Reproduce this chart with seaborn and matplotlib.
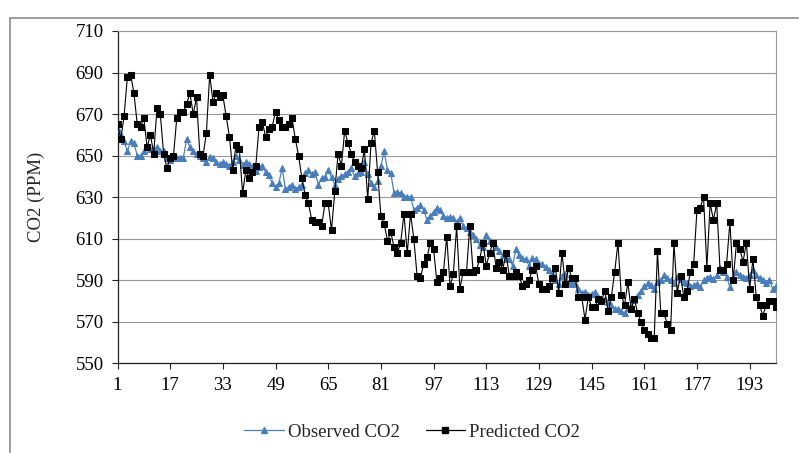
import numpy as np
import pandas as pd
import matplotlib
matplotlib.use("Agg")
import matplotlib.pyplot as plt
import seaborn as sns
from matplotlib.lines import Line2D

observed = [
    663, 660, 657, 652, 657, 656, 650, 650, 652, 654,
    653, 653, 654, 652, 652, 649, 648, 649, 649, 649,
    649, 658, 654, 652, 651, 650, 649, 647, 649.5, 648.7,
    647, 646, 647, 646, 645, 647, 650, 648, 645.5, 647,
    646, 644.7, 642.6, 644.3, 645, 642, 640.6, 636.6, 635, 636.6,
    644, 634, 635, 636, 634, 635, 636, 641.5, 643, 641,
    642, 636, 639, 639.5, 643, 639.5, 636, 638.6, 640, 641,
    642, 644, 640, 641.5, 642, 647, 641, 637, 635, 638,
    645, 652, 643, 641.5, 632, 632.6, 632, 630, 630, 630,
    624, 625, 626, 624, 619, 621, 623, 624.6, 623.8, 621,
    620, 620.5, 620, 618, 620, 616, 615, 613, 612, 610,
    607, 606, 612, 609, 608, 606, 604, 602, 600, 600,
    597, 605, 602, 600.5, 600, 597, 600.5, 600, 598, 598,
    596.5, 595, 593, 590, 588, 592, 593, 589, 588, 588.5,
    586, 584, 584.5, 583, 583.5, 584.5, 582, 580.5, 581, 579.6,
    578, 576, 576, 575, 574, 576.5, 578, 580.5, 583, 585,
    587, 588.5, 587.7, 586, 589, 590, 592.5, 591, 590, 588.5,
    591.7, 590.4, 589.3, 588.5, 587, 587.7, 588, 586.6, 590, 591,
    591.7, 590.4, 592.5, 595.7, 594, 591.7, 586.6, 591, 594, 592.5,
    591.7, 591, 592.5, 595, 592.5, 591, 590, 588.5, 590, 586,
    587,
]

predicted = [
    665, 658, 669, 688, 689, 680, 665, 664, 668, 654,
    660, 651, 673, 670, 651, 644, 649, 650, 668, 671,
    671, 675, 680, 670, 678, 651, 650, 661, 689, 676,
    680, 678, 679, 669, 659, 643, 655, 653, 632, 643,
    639, 642, 645, 664, 666, 659, 663, 664, 671, 667,
    664, 664, 665, 668, 658, 650, 639, 631, 627, 619,
    618, 618, 616, 627, 627, 614, 633, 651, 645, 662,
    656, 651, 647, 645, 644, 653, 629, 656, 662, 642,
    621, 617, 609, 613, 606, 603, 608, 622, 603, 622,
    610, 592, 591, 598, 601, 608, 605, 589, 591, 594,
    611, 587, 593, 616, 586, 594, 594, 616, 594, 595,
    600, 608, 597, 603, 608, 596, 599, 595, 603, 592,
    592, 594, 592, 587, 588, 590, 595, 597, 588, 586,
    586, 587, 591, 596, 584, 603, 588, 596, 591, 591,
    582, 582, 571, 582, 577, 577, 581, 580, 585, 575,
    582, 594, 608, 583, 578, 589, 576, 581, 574, 570,
    566, 564, 562, 562, 604, 574, 574, 569, 566, 608,
    584, 592, 582, 585, 594, 598, 624, 625, 630, 596,
    627, 619, 627, 595, 595, 598, 618, 590, 608, 605,
    599, 608, 586, 600, 582, 578, 573, 578, 580, 580,
    577,
]

x_ticks = [1, 17, 33, 49, 65, 81, 97, 113, 129, 145, 161, 177, 193]
y_ticks = [550, 570, 590, 610, 630, 650, 670, 690, 710]
series_names = ["Observed CO2", "Predicted CO2"]
y_label = "CO2 (PPM)"

n = len(observed)
idx = np.arange(1, n + 1)
df_obs = pd.DataFrame({"t": idx, "v": observed})
df_pred = pd.DataFrame({"t": idx, "v": predicted})

sns.set_style("white")
plt.rcParams["font.family"] = ["Liberation Serif", "DejaVu Serif"]

FS = 13.5
W, H = 799, 453
fig = plt.figure(figsize=(W / 100, H / 100), dpi=100)
L, R, T, B = 117.5, 776, 31, 363.3
ax = fig.add_axes([L / W, 1 - B / H, (R - L) / W, (B - T) / H])

blue = "#4A7EBB"
sns.lineplot(data=df_obs, x="t", y="v", ax=ax, color=blue, linewidth=0.9,
             marker="^", markersize=5, markeredgecolor=blue, markerfacecolor=blue,
             zorder=3)
sns.lineplot(data=df_pred, x="t", y="v", ax=ax, color="black", linewidth=0.8,
             marker="s", markersize=4.8, markeredgecolor="black", markerfacecolor="black",
             zorder=4)

ax.set_xlim(1, n)
ax.set_ylim(550, 710)
ax.set_xticks(x_ticks)
ax.set_yticks(y_ticks)
ax.set_xlabel("")
ax.set_ylabel(y_label, fontsize=FS)
ax.yaxis.set_label_coords((45 - L) / (R - L), 0.5)
ax.grid(axis="y", color="#999999", linewidth=0.8)
ax.grid(axis="x", visible=False)
ax.set_axisbelow(True)
for s in ["top", "right"]:
    ax.spines[s].set_color("#999999")
    ax.spines[s].set_linewidth(0.8)
for s in ["left", "bottom"]:
    ax.spines[s].set_color("#202020")
    ax.spines[s].set_linewidth(0.9)
ax.tick_params(axis="both", which="major", direction="out", length=4, width=0.8,
               color="#202020", labelsize=FS, labelcolor="black")
ax.tick_params(axis="x", pad=6)
ax.tick_params(axis="y", pad=6, left=True)
ax.tick_params(axis="x", bottom=True)

handles = [
    Line2D([], [], color=blue, linewidth=0.9, marker="^", markersize=4,
           markerfacecolor=blue, markeredgecolor=blue),
    Line2D([], [], color="black", linewidth=0.9, marker="s", markersize=4,
           markerfacecolor="black", markeredgecolor="black"),
]
fig.legend(handles, series_names, loc="center", bbox_to_anchor=(412 / W, 1 - 432 / H),
           ncol=2, frameon=False, fontsize=FS, handlelength=2.1, handletextpad=0.2,
           columnspacing=1.4)

# chart-area border (top and left edges visible)
fig.add_artist(Line2D([10 / W, 10 / W], [0, 1 - 18 / H], transform=fig.transFigure,
                      color="#8C8C8C", linewidth=1.2))
fig.add_artist(Line2D([10 / W, 1], [1 - 18 / H, 1 - 18 / H], transform=fig.transFigure,
                      color="#8C8C8C", linewidth=1.2))

fig.savefig("out.png", dpi=100)
